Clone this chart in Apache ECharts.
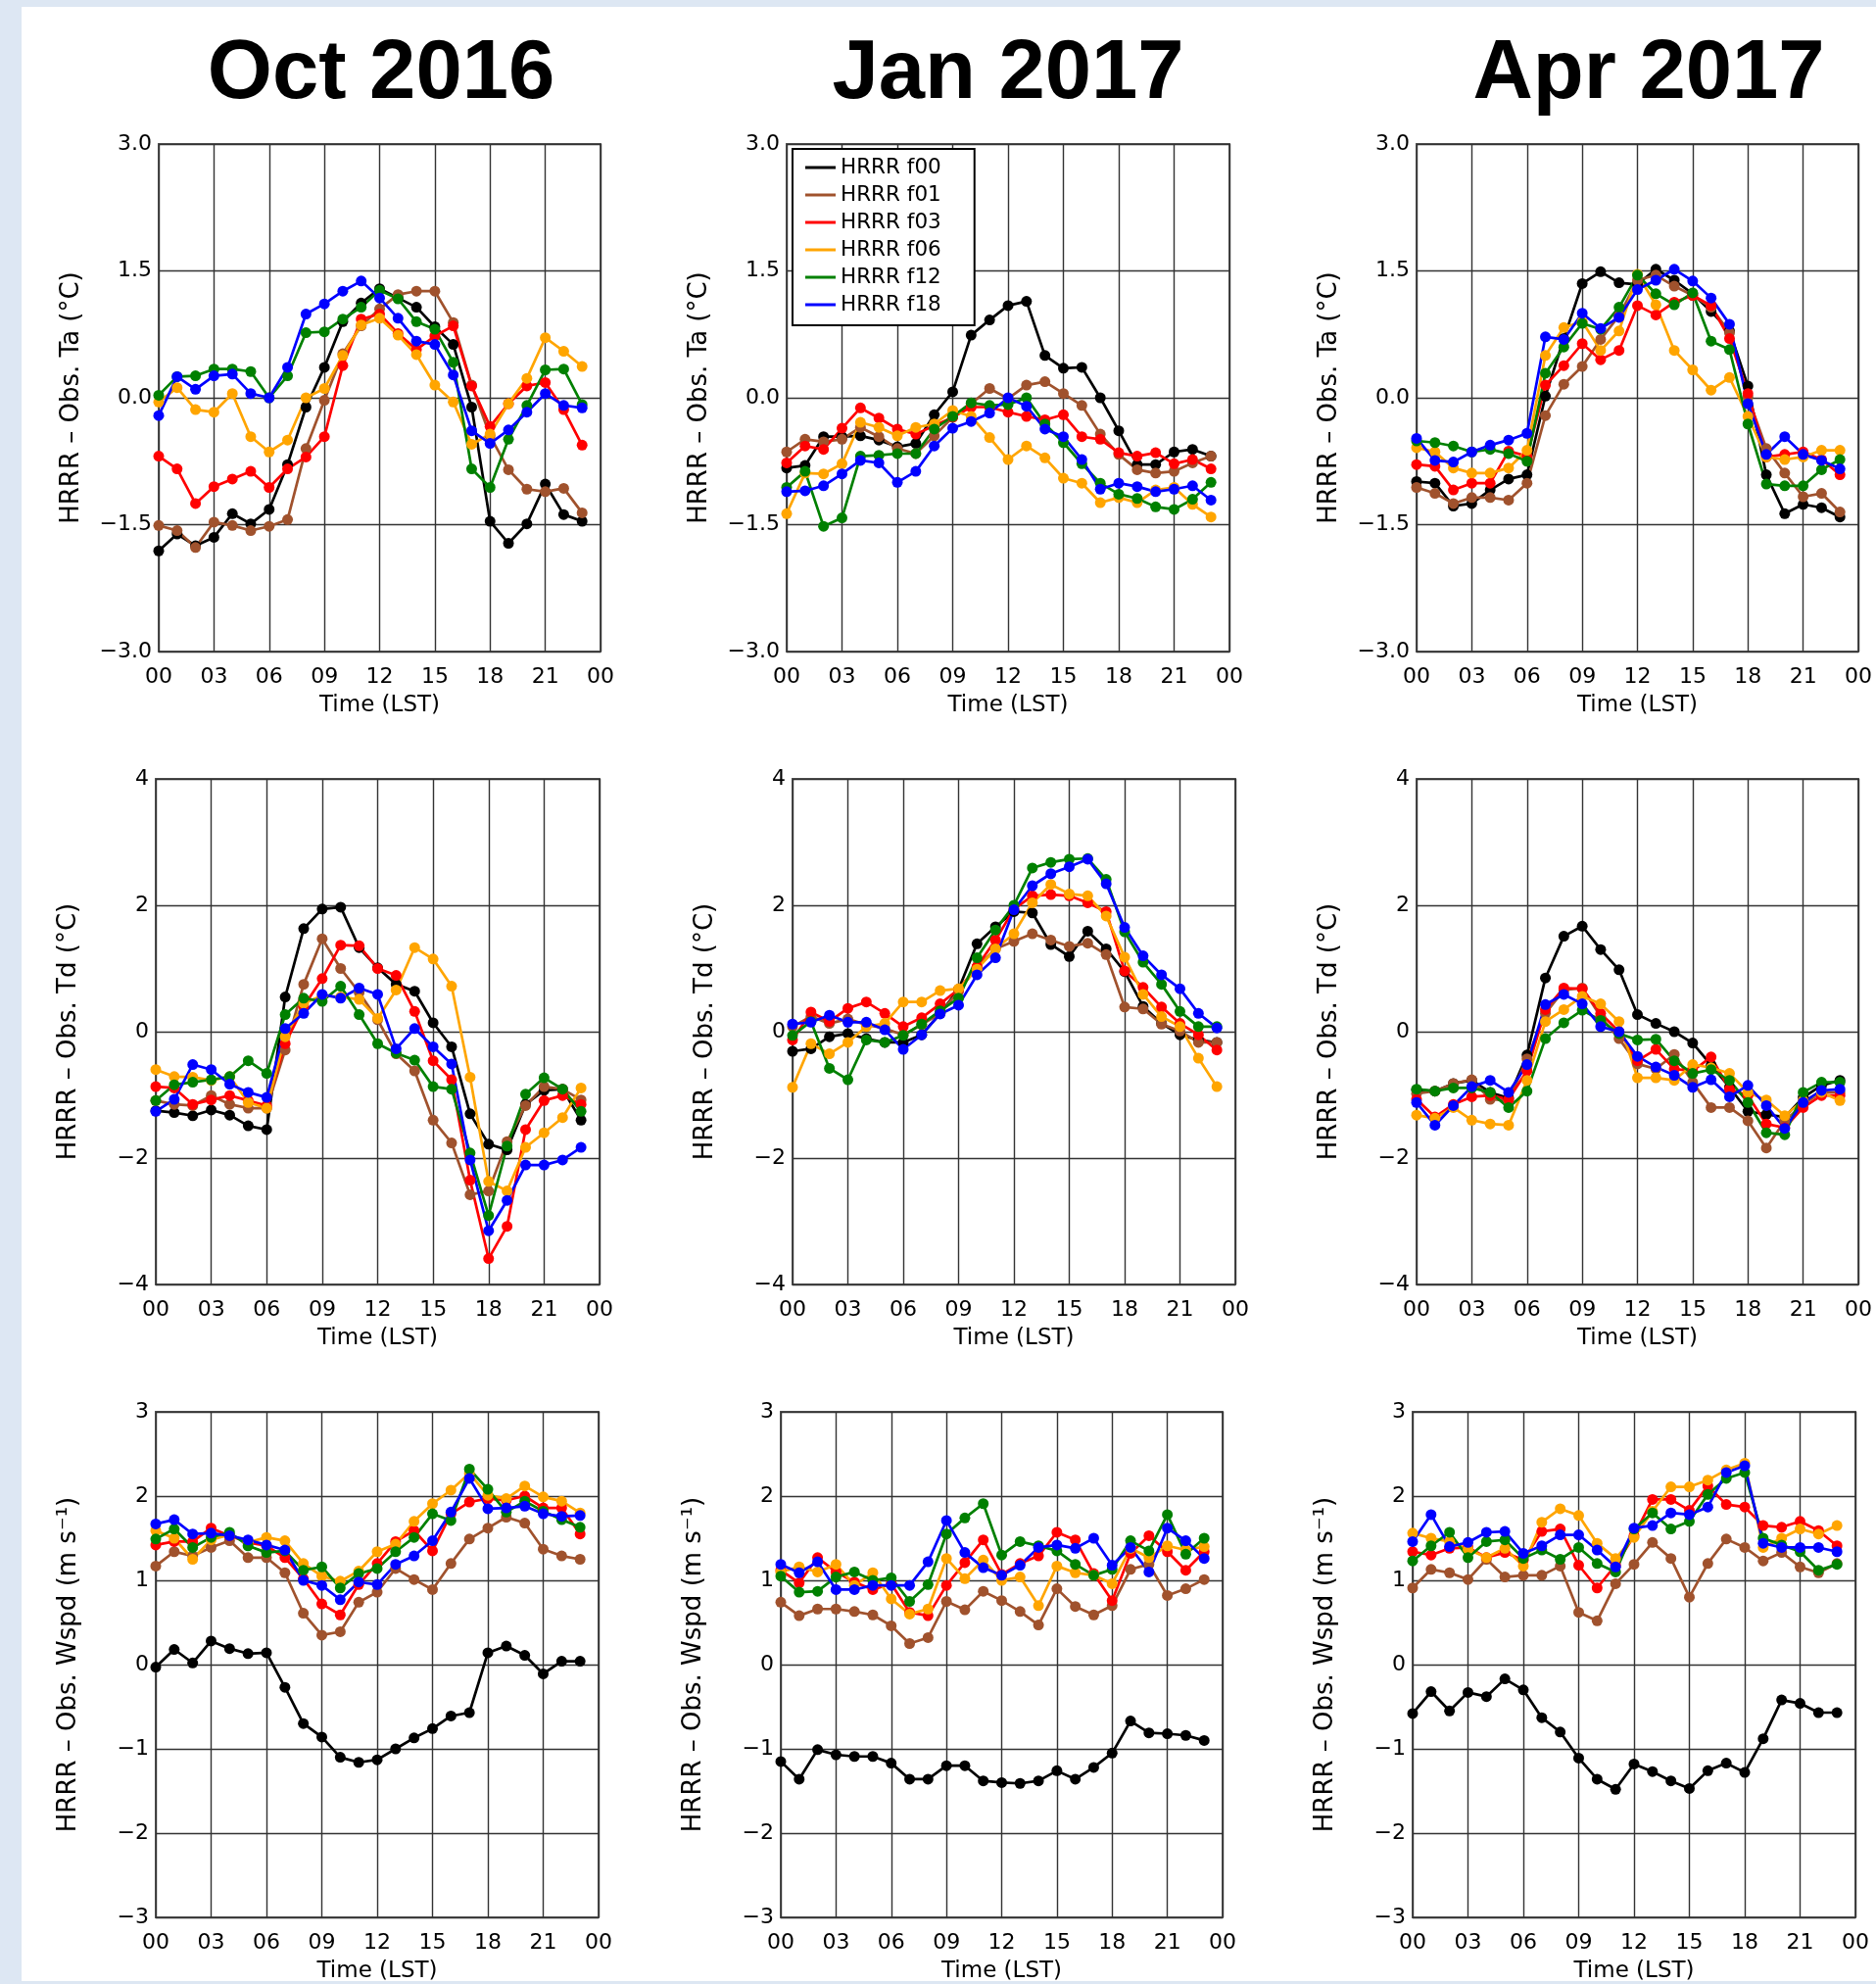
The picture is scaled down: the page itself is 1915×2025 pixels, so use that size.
<!DOCTYPE html>
<html><head><meta charset="utf-8">
<script src="https://cdn.jsdelivr.net/npm/echarts@6/dist/echarts.min.js"></script>
<style>
html,body{margin:0;padding:0;background:#dde7f3;}
#paper{position:absolute;left:22px;top:7px;width:1893px;height:2015px;background:#fff;}
#main{position:absolute;left:0;top:0;width:1915px;height:2025px;}
</style></head><body>
<div id="paper"></div><div id="main"></div>
<script>
const HOURS = [0,1,2,3,4,5,6,7,8,9,10,11,12,13,14,15,16,17,18,19,20,21,22,23];
const X_TICK_LABELS = ['00','03','06','09','12','15','18','21','00'];
const MONTH_TITLES = ['Oct 2016','Jan 2017','Apr 2017'];
const SERIES_NAMES = ['HRRR f00','HRRR f01','HRRR f03','HRRR f06','HRRR f12','HRRR f18'];
const Y_AXIS_NAMES = ['HRRR – Obs. Ta (°C)','HRRR – Obs. Td (°C)','HRRR – Obs. Wspd (m s⁻¹)'];

// Ta, Oct 2016
const taOct_f00 = [-1.81,-1.61,-1.75,-1.65,-1.37,-1.49,-1.32,-0.79,-0.11,0.36,0.9,1.12,1.29,1.18,1.07,0.84,0.63,-0.11,-1.46,-1.72,-1.49,-1.02,-1.38,-1.46];
const taOct_f01 = [-1.51,-1.57,-1.77,-1.47,-1.51,-1.57,-1.52,-1.44,-0.6,-0.03,0.52,0.85,1.05,1.22,1.26,1.26,0.89,0.15,-0.45,-0.85,-1.08,-1.11,-1.07,-1.36];
const taOct_f03 = [-0.69,-0.84,-1.25,-1.05,-0.96,-0.87,-1.06,-0.84,-0.7,-0.46,0.38,0.93,0.99,0.76,0.57,0.73,0.85,0.14,-0.34,-0.07,0.14,0.18,-0.14,-0.56];
const taOct_f06 = [-0.05,0.12,-0.14,-0.17,0.05,-0.46,-0.64,-0.5,0,0.11,0.5,0.86,0.94,0.74,0.51,0.15,-0.05,-0.55,-0.43,-0.07,0.23,0.71,0.55,0.37];
const taOct_f12 = [0.03,0.25,0.26,0.34,0.34,0.31,0,0.26,0.77,0.78,0.93,1.07,1.27,1.17,0.9,0.81,0.42,-0.84,-1.06,-0.49,-0.09,0.33,0.34,-0.08];
const taOct_f18 = [-0.21,0.25,0.1,0.26,0.28,0.05,0,0.36,0.99,1.11,1.26,1.38,1.18,0.94,0.67,0.63,0.27,-0.39,-0.54,-0.38,-0.17,0.05,-0.09,-0.12];
// Ta, Jan 2017
const taJan_f00 = [-0.83,-0.8,-0.46,-0.46,-0.45,-0.5,-0.58,-0.54,-0.2,0.07,0.74,0.92,1.09,1.14,0.5,0.35,0.36,0,-0.39,-0.79,-0.79,-0.64,-0.61,-0.69];
const taJan_f01 = [-0.64,-0.49,-0.52,-0.49,-0.35,-0.46,-0.6,-0.66,-0.45,-0.23,-0.07,0.11,-0.01,0.15,0.19,0.05,-0.09,-0.43,-0.67,-0.85,-0.89,-0.87,-0.77,-0.69];
const taJan_f03 = [-0.77,-0.57,-0.61,-0.36,-0.12,-0.24,-0.37,-0.43,-0.33,-0.23,-0.11,-0.11,-0.17,-0.22,-0.26,-0.2,-0.46,-0.49,-0.65,-0.69,-0.65,-0.78,-0.73,-0.84];
const taJan_f06 = [-1.37,-0.89,-0.9,-0.78,-0.29,-0.35,-0.45,-0.35,-0.31,-0.15,-0.22,-0.47,-0.73,-0.57,-0.71,-0.95,-1.01,-1.24,-1.18,-1.24,-1.09,-1.06,-1.26,-1.41];
const taJan_f12 = [-1.06,-0.87,-1.52,-1.42,-0.69,-0.68,-0.66,-0.66,-0.37,-0.22,-0.06,-0.09,-0.08,0,-0.31,-0.53,-0.78,-1.01,-1.14,-1.19,-1.29,-1.32,-1.2,-1.0];
const taJan_f18 = [-1.11,-1.1,-1.04,-0.9,-0.74,-0.77,-1.0,-0.87,-0.57,-0.36,-0.28,-0.18,0,-0.1,-0.37,-0.46,-0.73,-1.08,-1.01,-1.05,-1.11,-1.08,-1.04,-1.21];
// Ta, Apr 2017
const taApr_f00 = [-0.99,-1.01,-1.28,-1.25,-1.09,-0.96,-0.91,0.02,0.7,1.35,1.49,1.36,1.34,1.52,1.39,1.23,1.02,0.79,0.14,-0.91,-1.37,-1.26,-1.3,-1.41];
const taApr_f01 = [-1.06,-1.13,-1.25,-1.18,-1.18,-1.21,-1.01,-0.21,0.16,0.37,0.69,0.97,1.39,1.45,1.32,1.21,1.07,0.77,0.01,-0.6,-0.89,-1.17,-1.13,-1.35];
const taApr_f03 = [-0.79,-0.81,-1.09,-1.01,-1.01,-0.63,-0.69,0.15,0.38,0.64,0.45,0.56,1.09,0.98,1.13,1.21,1.09,0.7,0.05,-0.7,-0.67,-0.64,-0.73,-0.91];
const taApr_f06 = [-0.59,-0.64,-0.83,-0.89,-0.89,-0.83,-0.62,0.5,0.83,0.9,0.56,0.79,1.46,1.1,0.56,0.33,0.09,0.24,-0.22,-0.7,-0.73,-0.7,-0.62,-0.62];
const taApr_f12 = [-0.51,-0.53,-0.57,-0.64,-0.61,-0.66,-0.75,0.29,0.6,0.88,0.81,1.07,1.45,1.23,1.1,1.24,0.67,0.57,-0.31,-1.02,-1.04,-1.04,-0.85,-0.73];
const taApr_f18 = [-0.48,-0.74,-0.76,-0.64,-0.56,-0.5,-0.42,0.72,0.69,1.0,0.82,0.95,1.28,1.39,1.52,1.38,1.18,0.87,-0.07,-0.67,-0.46,-0.67,-0.74,-0.84];
// Td, Oct 2016
const tdOct_f00 = [-1.25,-1.28,-1.33,-1.24,-1.32,-1.49,-1.55,0.55,1.63,1.94,1.97,1.33,1.01,0.75,0.64,0.14,-0.24,-1.3,-1.78,-1.87,-1.15,-0.93,-0.91,-1.4];
const tdOct_f01 = [-1.09,-1.15,-1.17,-1.01,-1.15,-1.21,-1.21,-0.29,0.75,1.47,1.0,0.62,0.19,-0.35,-0.62,-1.4,-1.76,-2.58,-2.52,-1.74,-1.17,-0.87,-0.91,-1.08];
const tdOct_f03 = [-0.87,-0.89,-1.15,-1.08,-1.01,-1.09,-1.17,-0.19,0.4,0.84,1.37,1.36,1.0,0.89,0.32,-0.46,-0.76,-2.35,-3.59,-3.08,-1.55,-1.09,-1.01,-1.15];
const tdOct_f06 = [-0.6,-0.71,-0.72,-0.77,-0.71,-1.12,-1.21,-0.08,0.45,0.57,0.55,0.51,0.21,0.66,1.33,1.15,0.72,-0.72,-2.37,-2.52,-1.83,-1.6,-1.36,-0.89];
const tdOct_f12 = [-1.09,-0.84,-0.8,-0.76,-0.71,-0.46,-0.66,0.27,0.53,0.48,0.72,0.27,-0.19,-0.34,-0.45,-0.87,-0.91,-1.92,-2.91,-1.81,-0.99,-0.73,-0.91,-1.26];
const tdOct_f18 = [-1.26,-1.07,-0.52,-0.6,-0.83,-0.96,-1.04,0.05,0.29,0.59,0.53,0.69,0.59,-0.27,0.05,-0.24,-0.51,-2.03,-3.15,-2.67,-2.11,-2.11,-2.03,-1.83];
// Td, Jan 2017
const tdJan_f00 = [-0.31,-0.27,-0.08,-0.03,-0.11,-0.17,-0.17,-0.05,0.29,0.67,1.39,1.66,1.9,1.88,1.38,1.19,1.59,1.31,0.95,0.4,0.13,-0.05,-0.13,-0.17];
const tdJan_f01 = [0.08,0.24,0.13,0.2,0.11,0.05,-0.05,0.11,0.29,0.64,1.02,1.31,1.43,1.55,1.45,1.35,1.4,1.22,0.39,0.36,0.12,0.01,-0.17,-0.17];
const tdJan_f03 = [-0.13,0.31,0.16,0.37,0.47,0.29,0.08,0.22,0.44,0.67,1.03,1.45,1.94,2.15,2.17,2.15,2.04,1.9,0.96,0.7,0.39,0.13,-0.05,-0.29];
const tdJan_f06 = [-0.88,-0.19,-0.35,-0.17,0.08,0.13,0.47,0.47,0.65,0.68,0.99,1.31,1.55,2.04,2.33,2.18,2.15,1.83,1.18,0.59,0.24,0.08,-0.42,-0.87];
const tdJan_f12 = [-0.06,0.16,-0.58,-0.76,-0.13,-0.17,-0.06,0.12,0.33,0.53,1.17,1.61,2.0,2.59,2.68,2.73,2.74,2.41,1.58,1.1,0.75,0.32,0.08,0.08];
const tdJan_f18 = [0.12,0.15,0.26,0.15,0.15,0.03,-0.28,-0.05,0.28,0.42,0.9,1.17,1.93,2.31,2.5,2.61,2.73,2.34,1.65,1.2,0.9,0.68,0.29,0.06];
// Td, Apr 2017
const tdApr_f00 = [-0.92,-0.94,-0.82,-0.77,-0.96,-1.05,-0.37,0.85,1.51,1.67,1.3,0.98,0.27,0.13,0.0,-0.18,-0.53,-0.88,-1.26,-1.31,-1.35,-1.04,-0.85,-0.77];
const tdApr_f01 = [-0.98,-0.94,-0.82,-0.76,-1.07,-1.09,-0.43,0.29,0.66,0.69,0.24,-0.11,-0.51,-0.59,-0.36,-0.8,-1.2,-1.2,-1.41,-1.84,-1.41,-1.15,-0.96,-0.96];
const tdApr_f03 = [-1.07,-1.35,-1.15,-1.03,-1.01,-1.07,-0.62,0.35,0.69,0.68,0.29,0.0,-0.46,-0.28,-0.59,-0.62,-0.4,-0.91,-1.01,-1.46,-1.52,-1.2,-1.01,-1.01];
const tdApr_f06 = [-1.32,-1.37,-1.2,-1.4,-1.46,-1.48,-0.77,0.16,0.35,0.56,0.44,0.16,-0.73,-0.73,-0.77,-0.52,-0.57,-0.66,-0.96,-1.08,-1.33,-1.09,-0.96,-1.09];
const tdApr_f12 = [-0.91,-0.94,-0.89,-0.89,-0.96,-1.2,-0.94,-0.11,0.14,0.34,0.18,-0.03,-0.13,-0.12,-0.46,-0.66,-0.6,-0.77,-1.12,-1.6,-1.63,-0.96,-0.8,-0.8];
const tdApr_f18 = [-1.12,-1.48,-1.17,-0.87,-0.77,-0.96,-0.52,0.43,0.59,0.44,0.08,0.0,-0.39,-0.56,-0.69,-0.88,-0.76,-1.03,-0.85,-1.17,-1.53,-1.12,-0.93,-0.91];
// Wspd, Oct 2016
const wsOct_f00 = [-0.03,0.18,0.02,0.28,0.19,0.13,0.14,-0.27,-0.7,-0.86,-1.1,-1.16,-1.13,-1.0,-0.87,-0.76,-0.61,-0.57,0.14,0.22,0.11,-0.11,0.04,0.04];
const wsOct_f01 = [1.17,1.34,1.29,1.39,1.47,1.27,1.27,1.09,0.61,0.35,0.39,0.74,0.86,1.14,1.01,0.89,1.2,1.49,1.62,1.75,1.68,1.37,1.29,1.25];
const wsOct_f03 = [1.42,1.46,1.46,1.62,1.53,1.45,1.41,1.27,1.02,0.72,0.59,0.95,1.2,1.46,1.59,1.35,1.79,1.93,1.97,1.95,2.0,1.86,1.86,1.55];
const wsOct_f06 = [1.59,1.5,1.25,1.48,1.54,1.45,1.51,1.47,1.2,1.05,0.99,1.11,1.34,1.43,1.7,1.91,2.07,2.27,2.01,1.97,2.12,1.99,1.94,1.8];
const wsOct_f12 = [1.49,1.61,1.39,1.51,1.57,1.41,1.33,1.35,1.12,1.16,0.91,1.08,1.14,1.34,1.51,1.79,1.71,2.32,2.08,1.81,1.94,1.82,1.72,1.63];
const wsOct_f18 = [1.67,1.72,1.55,1.56,1.53,1.48,1.42,1.36,1.0,0.94,0.77,0.98,0.95,1.19,1.29,1.47,1.81,2.21,1.85,1.86,1.88,1.79,1.76,1.77];
// Wspd, Jan 2017
const wsJan_f00 = [-1.15,-1.36,-1.01,-1.07,-1.09,-1.09,-1.17,-1.36,-1.36,-1.2,-1.2,-1.38,-1.4,-1.41,-1.38,-1.26,-1.36,-1.22,-1.05,-0.67,-0.81,-0.82,-0.84,-0.9];
const wsJan_f01 = [0.74,0.58,0.66,0.66,0.63,0.59,0.46,0.25,0.32,0.75,0.65,0.87,0.76,0.63,0.47,0.9,0.69,0.59,0.7,1.13,1.19,0.82,0.9,1.01];
const wsJan_f03 = [1.12,0.97,1.27,1.1,0.98,0.89,0.96,0.62,0.58,0.94,1.21,1.48,1.07,1.2,1.29,1.57,1.48,1.08,0.76,1.32,1.53,1.34,1.12,1.34];
const wsJan_f06 = [1.1,1.16,1.1,1.19,0.94,1.09,0.78,0.6,0.66,1.26,1.02,1.24,1.0,1.04,0.7,1.17,1.09,1.06,0.96,1.38,1.27,1.41,1.36,1.4];
const wsJan_f12 = [1.05,0.86,0.87,1.04,1.1,1.0,1.03,0.75,0.95,1.55,1.74,1.91,1.3,1.46,1.41,1.35,1.19,1.06,1.13,1.47,1.35,1.78,1.31,1.5];
const wsJan_f18 = [1.19,1.09,1.22,0.89,0.89,0.94,0.94,0.94,1.22,1.71,1.33,1.15,1.06,1.18,1.39,1.42,1.38,1.5,1.18,1.39,1.1,1.62,1.47,1.26];
// Wspd, Apr 2017
const wsApr_f00 = [-0.58,-0.32,-0.55,-0.33,-0.38,-0.17,-0.3,-0.63,-0.8,-1.11,-1.36,-1.48,-1.18,-1.27,-1.38,-1.47,-1.26,-1.17,-1.28,-0.88,-0.42,-0.46,-0.57,-0.57];
const wsApr_f01 = [0.91,1.13,1.09,1.01,1.25,1.04,1.06,1.06,1.17,0.62,0.52,0.96,1.19,1.45,1.26,0.8,1.2,1.49,1.39,1.23,1.33,1.16,1.09,1.2];
const wsApr_f03 = [1.34,1.3,1.38,1.39,1.27,1.33,1.24,1.58,1.61,1.18,0.91,1.18,1.53,1.96,1.96,1.83,2.12,1.9,1.87,1.65,1.63,1.7,1.59,1.41];
const wsApr_f06 = [1.56,1.5,1.46,1.37,1.27,1.38,1.17,1.69,1.85,1.77,1.44,1.26,1.51,1.82,2.11,2.11,2.19,2.31,2.39,1.39,1.5,1.61,1.55,1.65];
const wsApr_f12 = [1.23,1.41,1.57,1.27,1.46,1.48,1.26,1.36,1.25,1.39,1.2,1.1,1.61,1.8,1.61,1.7,2.02,2.21,2.28,1.5,1.42,1.34,1.12,1.19];
const wsApr_f18 = [1.46,1.78,1.4,1.45,1.57,1.58,1.32,1.41,1.54,1.54,1.36,1.16,1.62,1.65,1.8,1.78,1.87,2.28,2.36,1.44,1.39,1.39,1.39,1.34];

// ---- panel assembly (row-major) ----
const PANEL_DATA = [
  [taOct_f00,taOct_f01,taOct_f03,taOct_f06,taOct_f12,taOct_f18],
  [taJan_f00,taJan_f01,taJan_f03,taJan_f06,taJan_f12,taJan_f18],
  [taApr_f00,taApr_f01,taApr_f03,taApr_f06,taApr_f12,taApr_f18],
  [tdOct_f00,tdOct_f01,tdOct_f03,tdOct_f06,tdOct_f12,tdOct_f18],
  [tdJan_f00,tdJan_f01,tdJan_f03,tdJan_f06,tdJan_f12,tdJan_f18],
  [tdApr_f00,tdApr_f01,tdApr_f03,tdApr_f06,tdApr_f12,tdApr_f18],
  [wsOct_f00,wsOct_f01,wsOct_f03,wsOct_f06,wsOct_f12,wsOct_f18],
  [wsJan_f00,wsJan_f01,wsJan_f03,wsJan_f06,wsJan_f12,wsJan_f18],
  [wsApr_f00,wsApr_f01,wsApr_f03,wsApr_f06,wsApr_f12,wsApr_f18]
];

// ---- styling / layout ----
const COLORS = ['#000000','#a0522d','#ff0000','#ffa500','#008000','#0000ff'];
const ROW_AXES = [
  {min:-3, max:3, interval:1.5, dec:1},
  {min:-4, max:4, interval:2, dec:0},
  {min:-3, max:3, interval:1, dec:0}
];
const GRID_RECTS = [
  [162,147,451,518],[803,147,452,518],[1446,147,451,518],
  [159,795,453,516],[809,795,452,516],[1446,795,451,516],
  [159,1441,452,516],[797,1441,451,516],[1442,1441,452,516]
];
const TITLE_X = [384,1024,1678];
const FONT = 'DejaVu Sans';

const grids = [], xAxes = [], yAxes = [], series = [];
GRID_RECTS.forEach((r, i) => {
  const row = Math.floor(i / 3);
  const ax = ROW_AXES[row];
  grids.push({left:r[0], top:r[1], width:r[2], height:r[3], show:true,
    borderColor:'#555', borderWidth:2, backgroundColor:'#fff'});
  xAxes.push({type:'value', gridIndex:i, min:0, max:24, interval:3,
    name:'Time (LST)', nameLocation:'middle', nameGap:44,
    nameTextStyle:{fontFamily:FONT, fontSize:23, color:'#000'},
    axisLine:{show:false}, axisTick:{show:false},
    axisLabel:{fontFamily:FONT, fontSize:22, color:'#000', margin:15,
      formatter:v => X_TICK_LABELS[Math.round(v/3)]},
    splitLine:{show:true, lineStyle:{color:'#333', width:1.4}}});
  yAxes.push({type:'value', gridIndex:i, min:ax.min, max:ax.max, interval:ax.interval,
    name:Y_AXIS_NAMES[row], nameLocation:'middle', nameGap:76,
    nameTextStyle:{fontFamily:FONT, fontSize:26, color:'#000'},
    axisLine:{show:false}, axisTick:{show:false},
    axisLabel:{fontFamily:FONT, fontSize:22, color:'#000', margin:7,
      formatter:v => (v < 0 ? '\u2212' : '') + Math.abs(v).toFixed(ax.dec)},
    splitLine:{show:true, lineStyle:{color:'#333', width:1.4}}});
  PANEL_DATA[i].forEach((vals, k) => {
    series.push({type:'line', name:SERIES_NAMES[k], xAxisIndex:i, yAxisIndex:i,
      data:HOURS.map((h, j) => [h, vals[j]]),
      symbol:'circle', symbolSize:11, showSymbol:true,
      lineStyle:{color:COLORS[k], width:2.7}, itemStyle:{color:COLORS[k]},
      emphasis:{disabled:true}, animation:false});
  });
});

const chart = echarts.init(document.getElementById('main'), null, {renderer:'canvas'});
chart.setOption({
  animation:false,
  backgroundColor:'transparent',
  title: MONTH_TITLES.map((t, c) => ({text:t, left:TITLE_X[c], top:29, textAlign:'center',
    textStyle:{fontFamily:'Liberation Sans', fontSize:85, fontWeight:'bold', color:'#000'}})),
  legend:{data:SERIES_NAMES, orient:'vertical', left:809, top:152,
    backgroundColor:'#fff', borderColor:'#000', borderWidth:2,
    padding:[8,34,10,13], itemWidth:31, itemHeight:3, itemGap:6, itemTextGap:16,
    icon:'rect', textStyle:{fontFamily:FONT, fontSize:21.5, color:'#000'}},
  grid:grids, xAxis:xAxes, yAxis:yAxes, series:series
});
</script>
</body></html>
